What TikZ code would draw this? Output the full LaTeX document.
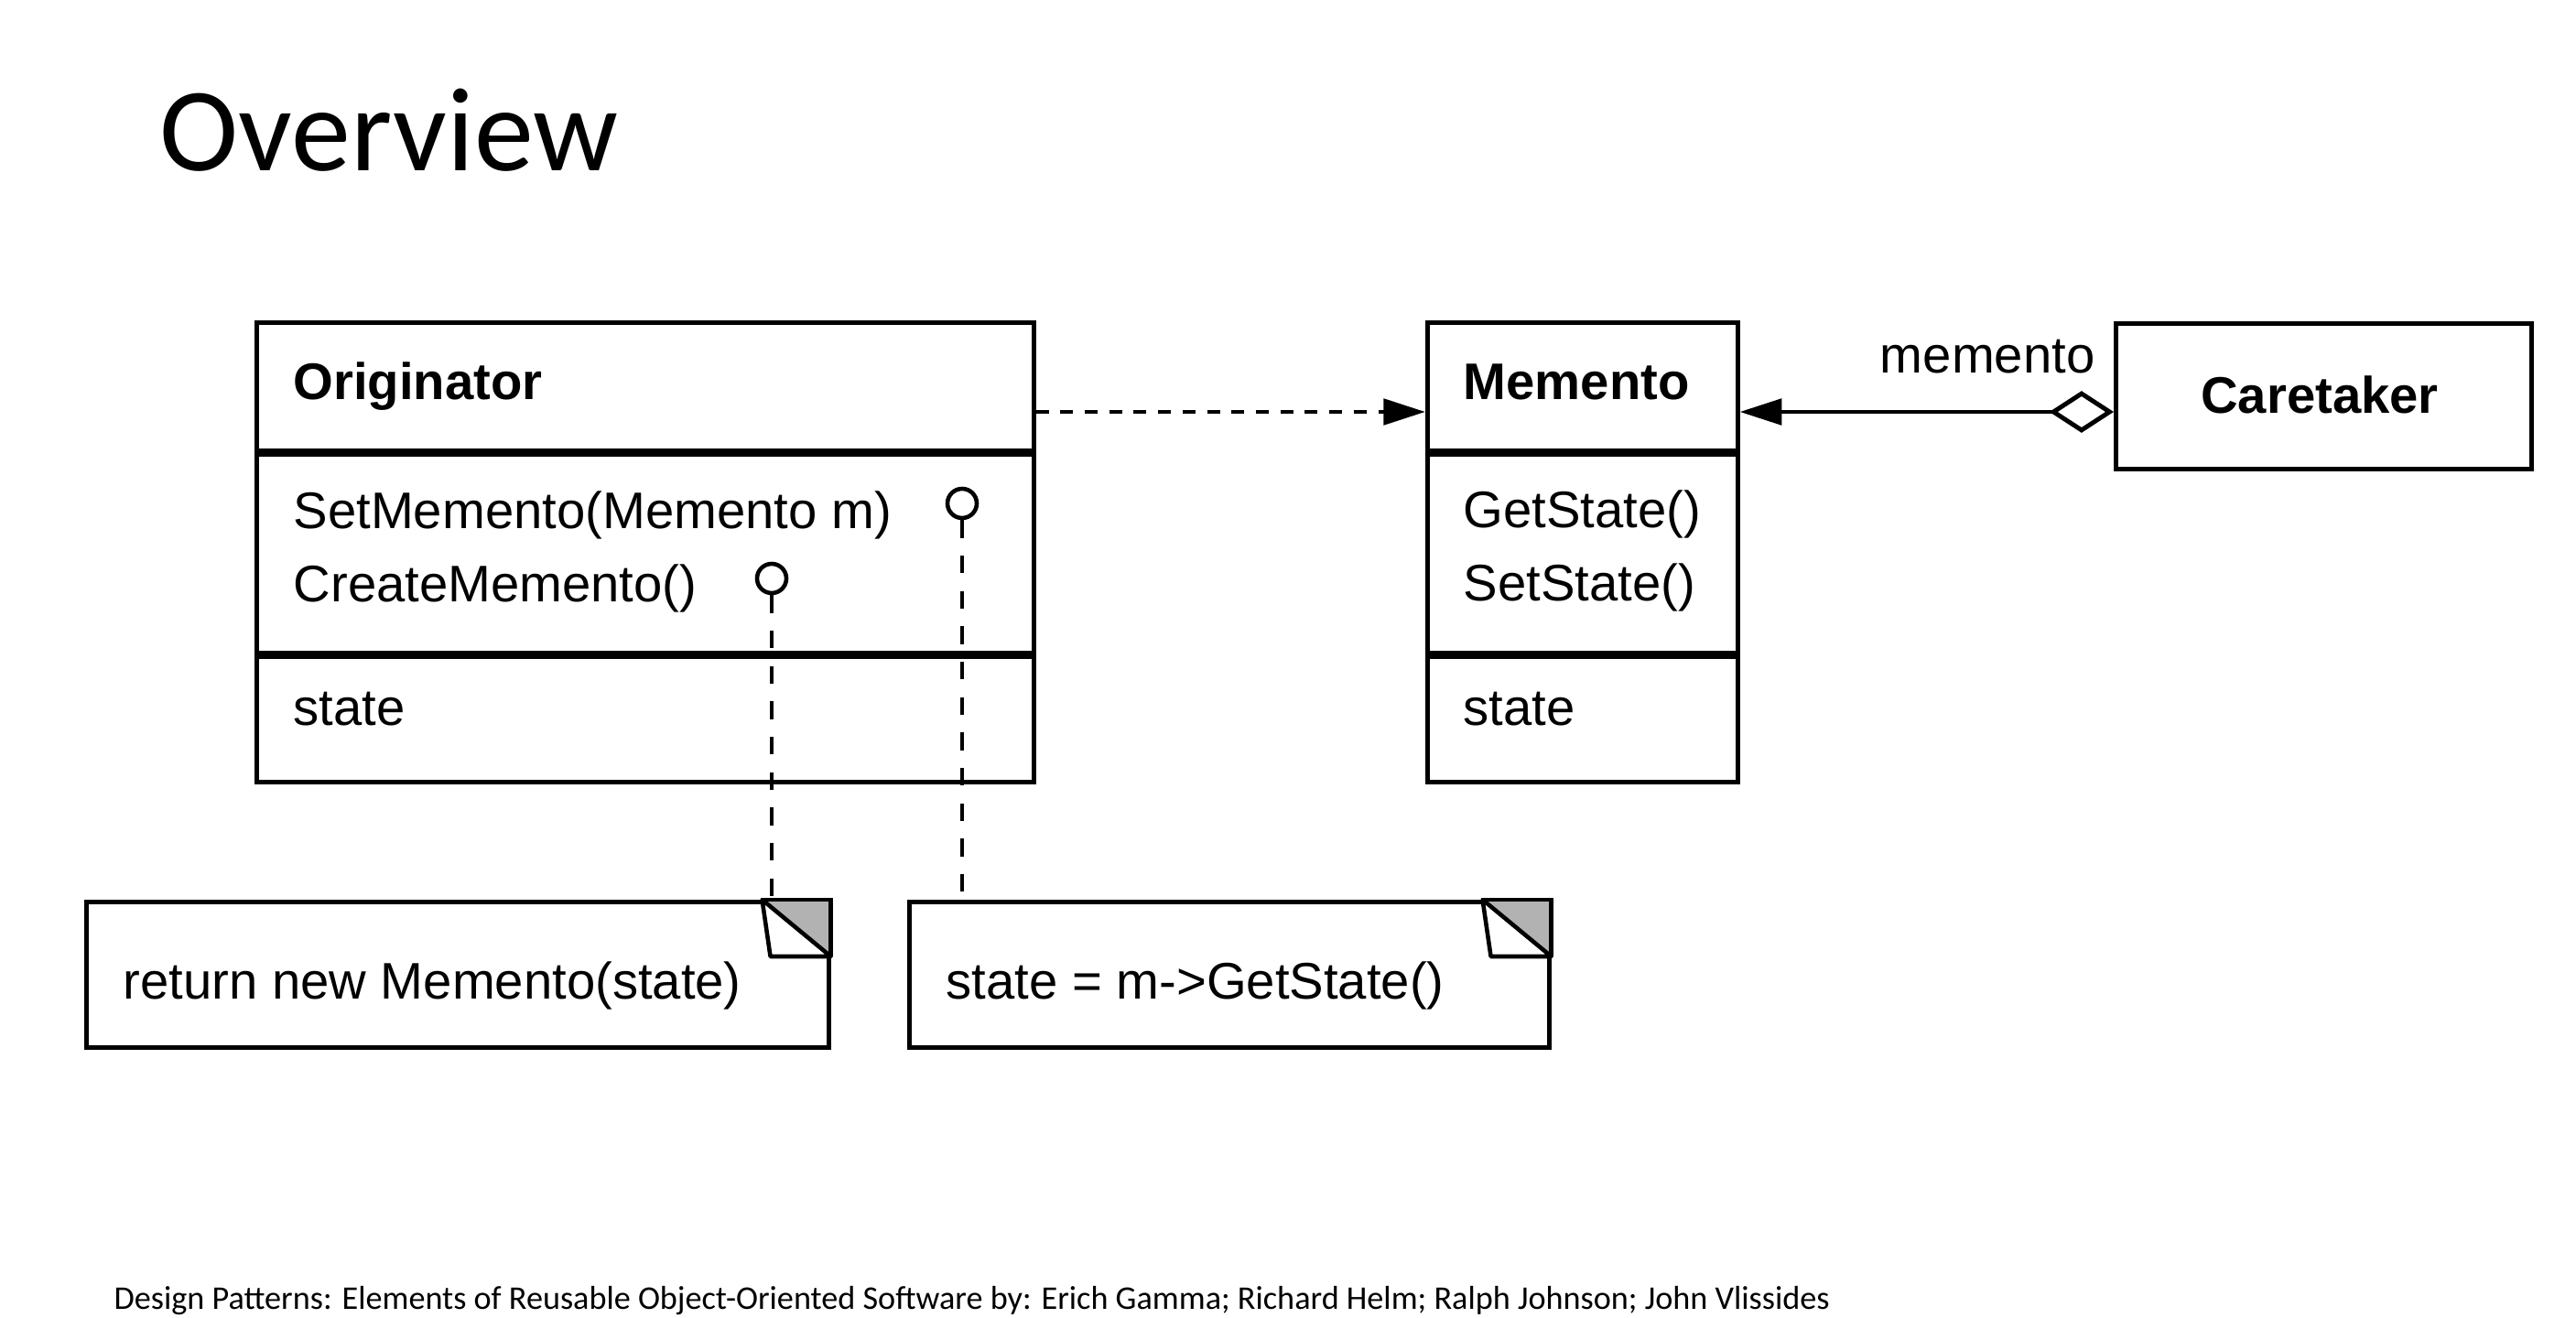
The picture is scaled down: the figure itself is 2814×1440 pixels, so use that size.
\documentclass[tikz,border=0pt]{standalone}
\usepackage{fontspec}
\setmainfont{Carlito}
\newfontfamily\umlfont{Liberation Sans}
\usetikzlibrary{arrows.meta, calc, positioning}

\tikzset{
  compart/.style={draw, line width=1.3pt, inner sep=0pt, anchor=north west},
  umltext/.style={font=\umlfont\fontsize{16}{19}\selectfont, anchor=base west, inner sep=0pt},
  umlbold/.style={umltext, font=\umlfont\bfseries\fontsize{16}{19}\selectfont},
  notebox/.style={draw, line width=1.3pt, inner sep=0pt, anchor=north west},
  lolli/.style={circle, draw, line width=1.3pt, fill=white, minimum size=3.2mm, inner sep=0pt},
  depline/.style={line width=1.4pt, dash pattern=on 4pt off 3.6pt, -{Triangle[length=13pt,width=8pt]}},
  noteline/.style={line width=1.4pt, dash pattern=on 5.5pt off 5.5pt},
  assocline/.style={line width=1.4pt, {Diamond[open,length=20pt,width=13pt]}-{Triangle[length=13pt,width=8pt]}},
}

\begin{document}
\begin{tikzpicture}[x=0.1mm, y=-0.1mm]
  \useasboundingbox (0,0) rectangle (2814,1440);
  \fill [white] (0,0) rectangle (2814,1440);

  % title and source line
  \node [anchor=base west, inner sep=0pt, font=\fontsize{37}{44}\selectfont] (title) at (174,187) {Overview};
  \node [anchor=base west, inner sep=0pt, font=\fontsize{10.3}{12}\selectfont] (source) at (124,1430)
    {Design Patterns: Elements of Reusable Object-Oriented Software by: Erich Gamma; Richard Helm; Ralph Johnson; John Vlissides};

  % Originator
  \node [compart, minimum width=84.9mm, minimum height=14mm] (orighead) at (278,350) {};
  \node [compart, minimum width=84.9mm, minimum height=21.6mm, below=0pt of orighead] (origops) {};
  \node [compart, minimum width=84.9mm, minimum height=13.7mm, below=0pt of origops] (origattr) {};
  \node [umlbold] (orignm) at (320,437) {Originator};
  \node [umltext] (setmem) at (320,578) {SetMemento(Memento m)};
  \node [umltext] (crmem) at (320,658) {CreateMemento()};
  \node [umltext] (origst) at (320,793) {state};

  % Memento
  \node [compart, minimum width=33.9mm, minimum height=14mm] (memhead) at (1557,350) {};
  \node [compart, minimum width=33.9mm, minimum height=21.6mm, below=0pt of memhead] (memops) {};
  \node [compart, minimum width=33.9mm, minimum height=13.7mm, below=0pt of memops] (memattr) {};
  \node [umlbold] (memnm) at (1598,437) {Memento};
  \node [umltext] (getst) at (1598,577) {GetState()};
  \node [umltext] (setst) at (1598,657) {SetState()};
  \node [umltext] (memst) at (1598,793) {state};

  % Caretaker
  \node [compart, minimum width=45.4mm, minimum height=15.9mm] (caretaker) at (2309,351) {};
  \node [umlbold, anchor=base] (caretnm) at (2534,452) {Caretaker};
  \node [umltext, anchor=base east] (rolenm) at (2289,408) {memento};

  % notes
  \node [notebox, minimum width=81.1mm, minimum height=15.9mm] (note1) at (92,983) {};
  \node [notebox, minimum width=69.9mm, minimum height=15.9mm] (note2) at (991,983) {};
  \node [umltext] (n1txt) at (134,1091) {return new Memento(state)};
  \node [umltext] (n2txt) at (1033,1091) {state = m->GetState()};

  \fill [gray!60] ($(note1.north east)+(-75,0)$) -- (note1.north east) -- ($(note1.north east)+(0,62)$) -- cycle;
  \draw [line width=1.3pt, fill=white, line join=round] ($(note1.north east)+(-75,0)$) -- ($(note1.north east)+(-66,62)$) -- ($(note1.north east)+(0,62)$) -- cycle;
  \draw [line width=1.3pt] ($(note1.north east)+(-75,0)$) -- (note1.north east) -- ($(note1.north east)+(0,62)$);

  \fill [gray!60] ($(note2.north east)+(-75,0)$) -- (note2.north east) -- ($(note2.north east)+(0,62)$) -- cycle;
  \draw [line width=1.3pt, fill=white, line join=round] ($(note2.north east)+(-75,0)$) -- ($(note2.north east)+(-66,62)$) -- ($(note2.north east)+(0,62)$) -- cycle;
  \draw [line width=1.3pt] ($(note2.north east)+(-75,0)$) -- (note2.north east) -- ($(note2.north east)+(0,62)$);

  % lollipops to the notes
  \node [lolli] (setlol) at (1051,550) {};
  \node [lolli] (crlol) at (843,632) {};
  \draw [noteline] (setlol.south) -- (setlol.south |- note2.north);
  \draw [noteline] (crlol.south) -- (crlol.south |- note1.north);

  % links
  \coordinate (linkrow) at (0,450);
  \draw [depline] (orighead.east |- linkrow) -- (memhead.west |- linkrow);
  \draw [assocline] (caretaker.west |- linkrow) -- (memhead.east |- linkrow);
\end{tikzpicture}
\end{document}
